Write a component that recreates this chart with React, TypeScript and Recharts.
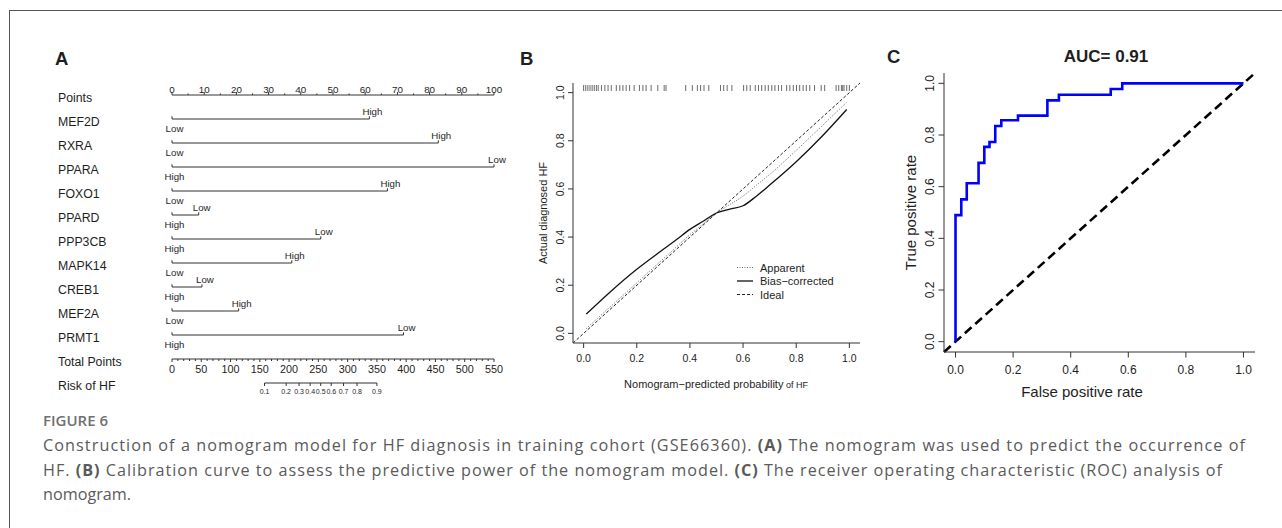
import React from 'react';
import { ComposedChart, Line, Scatter, XAxis, YAxis, ReferenceLine } from 'recharts';

const W = 1282;
const H = 528;
const SANS = '"Liberation Sans", Arial, Helvetica, sans-serif';
const CAPTION_FONT = '"Open Sans", "Noto Sans", sans-serif';
const INK = '#1e1e1e';
const BOX = '#333';

// ---------- A: nomogram ----------
const rowNames = ['Points', 'MEF2D', 'RXRA', 'PPARA', 'FOXO1', 'PPARD', 'PPP3CB', 'MAPK14', 'CREB1', 'MEF2A', 'PRMT1', 'Total Points', 'Risk of HF'];
const genes = ['MEF2D', 'RXRA', 'PPARA', 'FOXO1', 'PPARD', 'PPP3CB', 'MAPK14', 'CREB1', 'MEF2A', 'PRMT1'];
const genePoints = [61.3, 82.7, 100, 66.9, 8.3, 46.2, 37.2, 9.3, 20.7, 71.9];
const levelAtZero = ['Low', 'Low', 'High', 'Low', 'High', 'High', 'Low', 'High', 'Low', 'High'];
const levelAtEnd = ['High', 'High', 'Low', 'High', 'Low', 'Low', 'High', 'Low', 'High', 'Low'];
const pointsMajor = [0, 10, 20, 30, 40, 50, 60, 70, 80, 90, 100];
const totalMajor = [0, 50, 100, 150, 200, 250, 300, 350, 400, 450, 500, 550];
const riskLabels = ['0.1', '0.2', '0.3', '0.4', '0.5', '0.6', '0.7', '0.8', '0.9'];
const riskAtTotal = [158, 195, 217, 236, 254, 272, 293, 316, 350];
const POINTS_ROW = 0;
const TOTAL_ROW = 11;
const RISK_ROW = 12;

// ---------- B: calibration ----------
const calX = [0.01, 0.1, 0.2, 0.3, 0.35, 0.4, 0.45, 0.5, 0.55, 0.6, 0.65, 0.7, 0.8, 0.9, 0.99];
const apparent = [0.02, 0.11, 0.21, 0.31, 0.36, 0.41, 0.455, 0.5, 0.535, 0.57, 0.615, 0.66, 0.76, 0.865, 0.96];
const biasCorrected = [0.08, 0.172, 0.266, 0.349, 0.39, 0.432, 0.466, 0.5, 0.516, 0.53, 0.57, 0.616, 0.713, 0.822, 0.93];
const idealEnds = [-0.04, 1.04];
const rugX = [
  0, 0.008, 0.016, 0.024, 0.032, 0.04, 0.048, 0.055, 0.067, 0.08, 0.092, 0.104, 0.123, 0.136, 0.148, 0.16,
  0.173, 0.19, 0.21, 0.223, 0.235, 0.254, 0.279, 0.303, 0.31, 0.384, 0.409, 0.428, 0.44, 0.453, 0.471,
  0.515, 0.527, 0.54, 0.558, 0.602, 0.614, 0.627, 0.646, 0.658, 0.67, 0.683, 0.695, 0.708, 0.72, 0.733,
  0.745, 0.764, 0.776, 0.789, 0.801, 0.813, 0.826, 0.838, 0.851, 0.869, 0.894, 0.907, 0.95, 0.96, 0.97,
  0.975, 0.98, 0.99, 1.0,
];
const unitTicks = [0, 0.2, 0.4, 0.6, 0.8, 1];

// ---------- C: ROC ----------
const rocFpr = [0, 0.02, 0.039, 0.08, 0.1, 0.118, 0.138, 0.159, 0.217, 0.319, 0.359, 0.539, 0.579, 1.0];
const rocTpr = [0, 0.49, 0.551, 0.613, 0.692, 0.754, 0.773, 0.835, 0.857, 0.875, 0.934, 0.956, 0.978, 1.0];
const chanceEnds = [-0.04, 1.04];

const calLegend = [
  { name: 'Apparent', dash: '1 1.5', width: 1, color: '#666' },
  { name: 'Bias\u2212corrected', dash: undefined, width: 1.3, color: '#111' },
  { name: 'Ideal', dash: '3 2', width: 1, color: '#222' },
];

const pointsTicks = pointsMajor.flatMap((v, i) => (i < pointsMajor.length - 1 ? [v, v + 5] : [v]));
const totalTicks = totalMajor.flatMap((v, i) =>
  i < totalMajor.length - 1 ? [v, v + 10, v + 20, v + 30, v + 40] : [v]
);
const rowIdx = rowNames.map((_, i) => i);

const txt = { fontFamily: SANS, fill: INK };

// ----- tick / mark renderers -----
const PointsTick = (p: any) => {
  const major = p.payload.x % 10 === 0;
  return (
    <g>
      <line x1={p.cx} x2={p.cx} y1={p.cy} y2={p.cy - (major ? 3 : 1.6)} stroke={BOX} />
      {major && (
        <text x={p.cx} y={p.cy - 2} textAnchor="middle" fontSize={9.8} {...txt}>
          {p.payload.x}
        </text>
      )}
    </g>
  );
};

const RowName = (p: any) => (
  <text x={58} y={p.y + 7} fontSize={12.3} {...txt}>
    {rowNames[p.payload.value]}
  </text>
);

const ZeroEnd = (p: any) => (
  <g>
    <line x1={p.cx} x2={p.cx} y1={p.cy} y2={p.cy - 2.7} stroke={BOX} />
    <text x={p.cx + 2.5} y={p.cy + 13} textAnchor="middle" fontSize={9.7} {...txt}>
      {p.payload.label}
    </text>
  </g>
);

const FarEnd = (p: any) => (
  <g>
    <line x1={p.cx} x2={p.cx} y1={p.cy} y2={p.cy - 2.7} stroke={BOX} />
    <text x={p.cx + 3} y={p.cy - 4} textAnchor="middle" fontSize={9.7} {...txt}>
      {p.payload.label}
    </text>
  </g>
);

const TotalTick = (p: any) => {
  const major = p.payload.x % 50 === 0;
  return (
    <g>
      <line x1={p.cx} x2={p.cx} y1={p.cy} y2={p.cy + (major ? 3 : 2)} stroke={BOX} />
      {major && (
        <text x={p.cx} y={p.cy + 13.5} textAnchor="middle" fontSize={10.8} {...txt}>
          {p.payload.x}
        </text>
      )}
    </g>
  );
};

const RiskTick = (p: any) => (
  <g>
    <line x1={p.cx} x2={p.cx} y1={p.cy} y2={p.cy + 3} stroke={BOX} />
    <text x={p.cx} y={p.cy + 11} textAnchor="middle" fontSize={7} {...txt}>
      {p.payload.label}
    </text>
  </g>
);

const RugMark = (p: any) => (
  <line x1={p.cx} x2={p.cx} y1={p.cy + 2} y2={p.cy + 8} stroke="#444" strokeWidth={0.8} />
);

const makeRotTick = (fontSize: number) => (p: any) => (
  <text
    x={p.x}
    y={p.y}
    transform={`rotate(-90 ${p.x} ${p.y})`}
    textAnchor="middle"
    fontSize={fontSize}
    {...txt}
  >
    {Number(p.payload.value).toFixed(1)}
  </text>
);
const RotTickB = makeRotTick(10.5);
const RotTickC = makeRotTick(12);

const layer: React.CSSProperties = { position: 'absolute', left: 0, top: 0 };

function NomogramPanel() {
  const pointsRow = pointsTicks.map((t) => ({ x: t, y: POINTS_ROW }));
  const zeroRows = genes.map((_, i) => ({ x: 0, y: i + 1, label: levelAtZero[i] }));
  const endRows = genes.map((_, i) => ({ x: genePoints[i], y: i + 1, label: levelAtEnd[i] }));
  const totalRow = totalTicks.map((t) => ({ x: t, y: TOTAL_ROW }));
  const riskRow = riskAtTotal.map((t, i) => ({ x: t, y: RISK_ROW, label: riskLabels[i] }));
  return (
    <div style={layer}>
      <ComposedChart width={W} height={H} margin={{ top: 95, right: 788, bottom: 145, left: 72 }}>
        <XAxis xAxisId="pts" type="number" dataKey="x" domain={[0, 100]} hide />
        <XAxis xAxisId="tot" type="number" dataKey="x" domain={[0, 550]} hide />
        <YAxis
          type="number"
          dataKey="y"
          domain={[0, 12]}
          reversed
          ticks={rowIdx}
          interval={0}
          width={100}
          tickLine={false}
          axisLine={false}
          tick={RowName}
        />
        <ReferenceLine
          xAxisId="pts"
          segment={[{ x: pointsMajor[0], y: POINTS_ROW }, { x: pointsMajor[pointsMajor.length - 1], y: POINTS_ROW }]}
          stroke={BOX}
        />
        {genes.map((g, i) => (
          <ReferenceLine
            key={g}
            xAxisId="pts"
            segment={[{ x: 0, y: i + 1 }, { x: genePoints[i], y: i + 1 }]}
            stroke={BOX}
            strokeWidth={1}
          />
        ))}
        <ReferenceLine
          xAxisId="tot"
          segment={[{ x: totalMajor[0], y: TOTAL_ROW }, { x: totalMajor[totalMajor.length - 1], y: TOTAL_ROW }]}
          stroke={BOX}
        />
        <ReferenceLine
          xAxisId="tot"
          segment={[{ x: riskAtTotal[0], y: RISK_ROW }, { x: riskAtTotal[riskAtTotal.length - 1], y: RISK_ROW }]}
          stroke={BOX}
        />
        <Scatter xAxisId="pts" data={pointsRow} dataKey="y" shape={PointsTick} isAnimationActive={false} />
        <Scatter xAxisId="pts" data={zeroRows} dataKey="y" shape={ZeroEnd} isAnimationActive={false} />
        <Scatter xAxisId="pts" data={endRows} dataKey="y" shape={FarEnd} isAnimationActive={false} />
        <Scatter xAxisId="tot" data={totalRow} dataKey="y" shape={TotalTick} isAnimationActive={false} />
        <Scatter xAxisId="tot" data={riskRow} dataKey="y" shape={RiskTick} isAnimationActive={false} />
      </ComposedChart>
    </div>
  );
}

function CalibrationPanel() {
  const ideal = idealEnds.map((v) => ({ x: v, y: v }));
  const app = calX.map((x, i) => ({ x, y: apparent[i] }));
  const bias = calX.map((x, i) => ({ x, y: biasCorrected[i] }));
  const rug = rugX.map((x) => ({ x, y: 1.04 }));
  return (
    <div style={layer}>
      <ComposedChart width={W} height={H} margin={{ top: 83, right: 422, bottom: 135, left: 533 }}>
        <XAxis
          type="number"
          dataKey="x"
          domain={[-0.04, 1.04]}
          ticks={unitTicks}
          interval={0}
          height={50}
          tickSize={5}
          tickMargin={6.5}
          axisLine={{ stroke: BOX }}
          tickLine={{ stroke: BOX }}
          tick={{ fontSize: 10.5, fill: INK, fontFamily: SANS }}
          tickFormatter={(v: number) => v.toFixed(1)}
        />
        <XAxis xAxisId="top" orientation="top" type="number" dataKey="x" domain={[-0.04, 1.04]} height={0} tick={false} tickLine={false} axisLine={{ stroke: BOX }} />
        <YAxis
          type="number"
          dataKey="y"
          domain={[-0.04, 1.04]}
          ticks={unitTicks}
          interval={0}
          width={40}
          tickSize={5}
          tickMargin={4}
          axisLine={{ stroke: BOX }}
          tickLine={{ stroke: BOX }}
          tick={RotTickB}
        />
        <YAxis yAxisId="right" orientation="right" type="number" domain={[-0.04, 1.04]} width={0} tick={false} tickLine={false} axisLine={{ stroke: BOX }} />
        <Scatter data={rug} dataKey="y" shape={RugMark} isAnimationActive={false} />
        <Line data={ideal} dataKey="y" type="linear" stroke={calLegend[2].color} strokeWidth={calLegend[2].width} strokeDasharray={calLegend[2].dash} dot={false} isAnimationActive={false} />
        <Line data={app} dataKey="y" type="monotone" stroke={calLegend[0].color} strokeWidth={calLegend[0].width} strokeDasharray={calLegend[0].dash} dot={false} isAnimationActive={false} />
        <Line data={bias} dataKey="y" type="monotone" stroke={calLegend[1].color} strokeWidth={calLegend[1].width} dot={false} isAnimationActive={false} />
      </ComposedChart>
    </div>
  );
}

function RocPanel() {
  const chance = chanceEnds.map((v) => ({ x: v, y: v }));
  const roc = rocFpr.map((x, i) => ({ x, y: rocTpr[i] }));
  return (
    <div style={layer}>
      <ComposedChart width={W} height={H} margin={{ top: 73, right: 27, bottom: 126, left: 904 }}>
        <XAxis
          type="number"
          dataKey="x"
          domain={[-0.04, 1.04]}
          ticks={unitTicks}
          interval={0}
          height={50}
          tickSize={5.5}
          tickMargin={8}
          axisLine={{ stroke: BOX }}
          tickLine={{ stroke: BOX }}
          tick={{ fontSize: 12, fill: INK, fontFamily: SANS }}
          tickFormatter={(v: number) => v.toFixed(1)}
        />
        <XAxis xAxisId="top" orientation="top" type="number" dataKey="x" domain={[-0.04, 1.04]} height={0} tick={false} tickLine={false} axisLine={{ stroke: BOX }} />
        <YAxis
          type="number"
          dataKey="y"
          domain={[-0.04, 1.04]}
          ticks={unitTicks}
          interval={0}
          width={40}
          tickSize={5.5}
          tickMargin={4.5}
          axisLine={{ stroke: BOX }}
          tickLine={{ stroke: BOX }}
          tick={RotTickC}
        />
        <YAxis yAxisId="right" orientation="right" type="number" domain={[-0.04, 1.04]} width={0} tick={false} tickLine={false} axisLine={{ stroke: BOX }} />
        <Line data={chance} dataKey="y" type="linear" stroke="#000" strokeWidth={2.6} strokeDasharray="9 5" dot={false} isAnimationActive={false} />
        <Line data={roc} dataKey="y" type="stepBefore" stroke="#0000ff" strokeWidth={2.6} dot={false} isAnimationActive={false} />
      </ComposedChart>
    </div>
  );
}

function Overlay() {
  const capFill = '#5a5a5a';
  return (
    <svg width={W} height={H} style={{ ...layer, pointerEvents: 'none' }}>
      {/* panel letters */}
      <text x={55} y={64.5} fontSize={18.5} fontWeight="bold" {...txt}>A</text>
      <text x={520} y={65} fontSize={18.5} fontWeight="bold" {...txt}>B</text>
      <text x={887} y={62.5} fontSize={18.5} fontWeight="bold" {...txt}>C</text>

      {/* B titles */}
      <text x={543} y={213} transform="rotate(-90 543 213)" dy="0.35em" textAnchor="middle" fontSize={11} {...txt}>
        Actual diagnosed HF
      </text>
      <text x={716} y={388} textAnchor="middle" fontSize={11} {...txt}>
        Nomogram{'\u2212'}predicted probability<tspan fontSize={9}> of HF</tspan>
      </text>
      {calLegend.map((e, i) => (
        <g key={e.name}>
          <line x1={737} x2={753} y1={267.5 + 13.5 * i} y2={267.5 + 13.5 * i} stroke={e.color} strokeWidth={e.width} strokeDasharray={e.dash} />
          <text x={760} y={271.5 + 13.5 * i} fontSize={11} {...txt}>{e.name}</text>
        </g>
      ))}

      {/* C titles */}
      <text x={1106} y={62} textAnchor="middle" fontSize={17} fontWeight="bold" {...txt}>AUC= 0.91</text>
      <text x={911} y={212.5} transform="rotate(-90 911 212.5)" dy="0.35em" textAnchor="middle" fontSize={15} {...txt}>
        True positive rate
      </text>
      <text x={1082} y={397} textAnchor="middle" fontSize={15} {...txt}>False positive rate</text>

      {/* caption */}
      <text x={43} y={426} fontSize={15} fontWeight={600} fill="#707070" fontFamily={CAPTION_FONT} textLength={65} lengthAdjust="spacingAndGlyphs">
        FIGURE 6
      </text>
      <text x={43} y={451} fontSize={16.2} fill={capFill} fontFamily={CAPTION_FONT} textLength={1202} lengthAdjust="spacing">
        Construction of a nomogram model for HF diagnosis in training cohort (GSE66360).{' '}
        <tspan fontWeight="bold">(A)</tspan> The nomogram was used to predict the occurrence of
      </text>
      <text x={43} y={476} fontSize={16.2} fill={capFill} fontFamily={CAPTION_FONT} textLength={1179} lengthAdjust="spacing">
        HF. <tspan fontWeight="bold">(B)</tspan> Calibration curve to assess the predictive power of the nomogram model.{' '}
        <tspan fontWeight="bold">(C)</tspan> The receiver operating characteristic (ROC) analysis of
      </text>
      <text x={43} y={500} fontSize={16.2} fill={capFill} fontFamily={CAPTION_FONT}>
        nomogram.
      </text>
    </svg>
  );
}

export default function App() {
  return (
    <div style={{ position: 'absolute', left: 0, top: 0, width: W, height: H, background: '#fff', overflow: 'hidden' }}>
      <div style={{ position: 'absolute', left: 9, top: 10, right: 0, bottom: 0, borderTop: '1px solid #555', borderLeft: '1px solid #555' }} />
      <NomogramPanel />
      <CalibrationPanel />
      <RocPanel />
      <Overlay />
    </div>
  );
}
